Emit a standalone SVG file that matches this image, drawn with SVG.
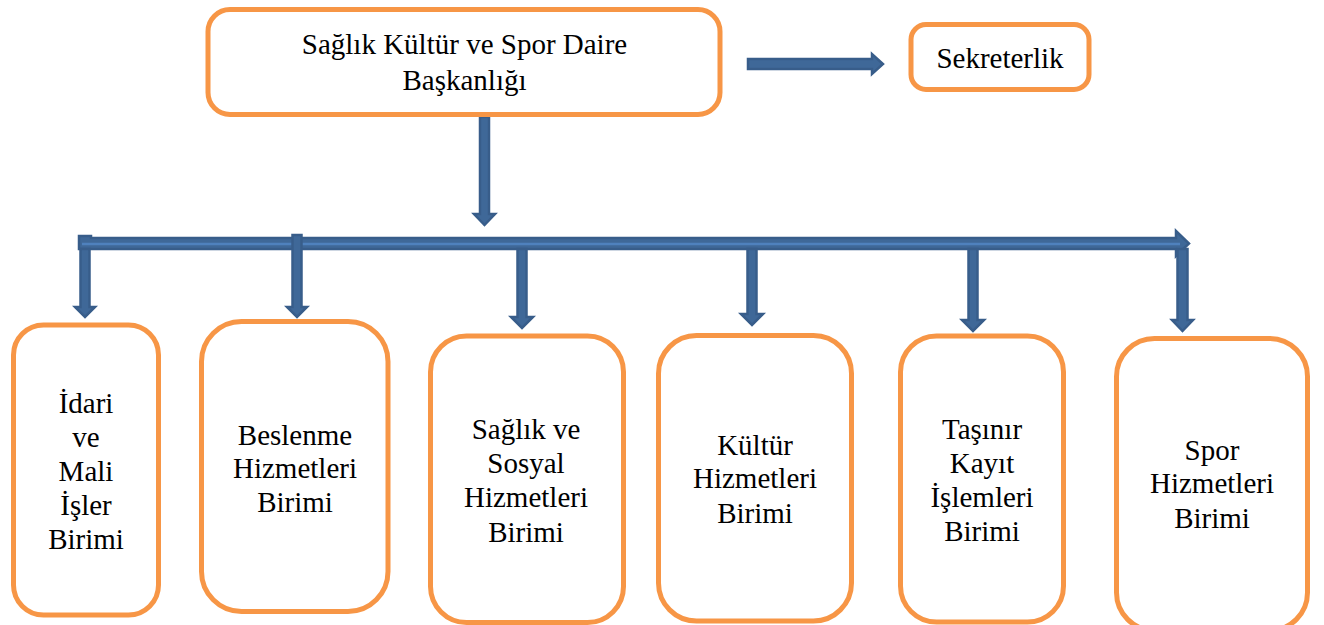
<svg xmlns="http://www.w3.org/2000/svg" width="1324" height="625" viewBox="0 0 1324 625">
<style>
.box{fill:#ffffff;stroke:#F79646;stroke-width:5}
.t{font-family:"Liberation Serif","Times New Roman",serif;font-size:29px;fill:#000000;text-anchor:middle}
.arr{fill:#3F6898;stroke:#385D8A;stroke-width:2.5;stroke-linejoin:miter}
.hl{stroke:#4F81BD;stroke-width:2.5;fill:none}
</style>
<rect width="1324" height="625" fill="#ffffff"/>
<g id="connectors">
  <polygon class="arr" points="748,59 872,59 872,54 883,64 872,74 872,69 748,69"/>
  <polygon class="arr" points="480,117 489,117 489,214 495,214 484.5,225 474,214 480,214"/>
  <polygon class="arr" points="79,236 91,236 91,238 1176,238 1176,231 1189,243.5 1176,256 1176,249 79,249"/>
  <line class="hl" x1="82" y1="244" x2="1180" y2="244"/>
  <polygon class="arr" points="80.5,249 89.5,249 89.5,307 95,307 85,317 75,307 80.5,307"/>
  <polygon class="arr" points="292.5,235 301.5,235 301.5,307 307,307 297,317 287,307 292.5,307"/>
  <polygon class="arr" points="517.5,249 526.5,249 526.5,317 533,317 522,328 511,317 517.5,317"/>
  <polygon class="arr" points="747.5,249 756.5,249 756.5,314 763,314 752,325 741,314 747.5,314"/>
  <polygon class="arr" points="968.5,249 977.5,249 977.5,320 984,320 973,331 962,320 968.5,320"/>
  <polygon class="arr" points="1177.5,249 1187.5,249 1187.5,320 1193,320 1182.5,331 1172,320 1177.5,320"/>
</g>
<g id="node-baskanlik">
  <rect class="box" x="208" y="9.5" width="512" height="105" rx="22" ry="22"/>
  <text class="t" x="464.5" y="54">Sağlık Kültür ve Spor Daire</text>
  <text class="t" x="464.5" y="90">Başkanlığı</text>
</g>
<g id="node-sekreterlik">
  <rect class="box" x="911" y="24.5" width="178" height="65" rx="15" ry="15"/>
  <text class="t" x="1000" y="68">Sekreterlik</text>
</g>
<g id="node-idari">
  <rect class="box" x="13.5" y="325" width="145" height="290" rx="30" ry="30"/>
  <text class="t" x="86" y="413">İdari</text>
  <text class="t" x="86" y="447">ve</text>
  <text class="t" x="86" y="481">Mali</text>
  <text class="t" x="86" y="515">İşler</text>
  <text class="t" x="86" y="549">Birimi</text>
</g>
<g id="node-beslenme">
  <rect class="box" x="201.5" y="321.5" width="186.5" height="290" rx="40" ry="40"/>
  <text class="t" x="295" y="445">Beslenme</text>
  <text class="t" x="295" y="478">Hizmetleri</text>
  <text class="t" x="295" y="512">Birimi</text>
</g>
<g id="node-saglik">
  <rect class="box" x="430.5" y="336" width="193" height="286.5" rx="36" ry="36"/>
  <text class="t" x="526" y="439">Sağlık ve</text>
  <text class="t" x="526" y="473">Sosyal</text>
  <text class="t" x="526" y="507">Hizmetleri</text>
  <text class="t" x="526" y="542">Birimi</text>
</g>
<g id="node-kultur">
  <rect class="box" x="658.5" y="335.5" width="193" height="285.5" rx="38" ry="38"/>
  <text class="t" x="755" y="455">Kültür</text>
  <text class="t" x="755" y="488">Hizmetleri</text>
  <text class="t" x="755" y="523">Birimi</text>
</g>
<g id="node-tasinir">
  <rect class="box" x="900.5" y="336" width="163" height="286" rx="36" ry="36"/>
  <text class="t" x="982" y="439">Taşınır</text>
  <text class="t" x="982" y="473">Kayıt</text>
  <text class="t" x="982" y="507">İşlemleri</text>
  <text class="t" x="982" y="541">Birimi</text>
</g>
<g id="node-spor">
  <rect class="box" x="1116.5" y="338.5" width="191" height="292" rx="38" ry="38"/>
  <text class="t" x="1212" y="460">Spor</text>
  <text class="t" x="1212" y="493">Hizmetleri</text>
  <text class="t" x="1212" y="528">Birimi</text>
</g>
</svg>
